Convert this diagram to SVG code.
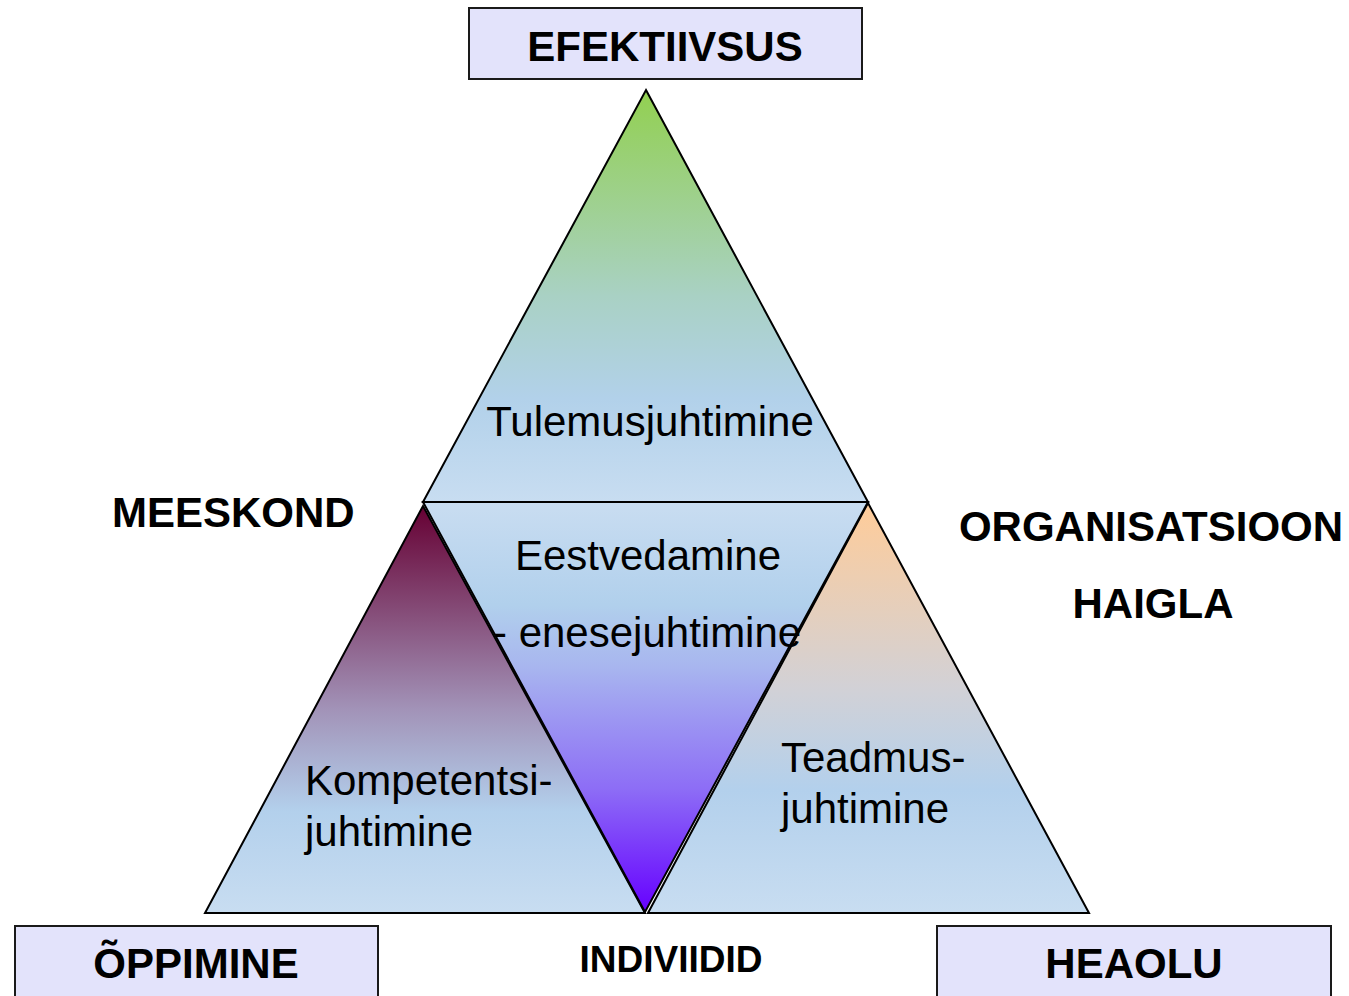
<svg xmlns="http://www.w3.org/2000/svg" width="1349" height="996" viewBox="0 0 1349 996">
<style>
.box{fill:#e3e3fb;stroke:#1a1a1a;stroke-width:2}
.tri{stroke:#000;stroke-width:2;stroke-linejoin:miter}
.b{font-family:"Liberation Sans",Arial,sans-serif;font-weight:bold;font-size:42px;fill:#000}
.r{font-family:"Liberation Sans",Arial,sans-serif;font-size:42px;fill:#000}
</style>
<defs>
<linearGradient id="gTop" x1="0" y1="90" x2="0" y2="502" gradientUnits="userSpaceOnUse">
<stop offset="0" stop-color="#92d050"/>
<stop offset="0.5" stop-color="#a9d1c4"/>
<stop offset="0.75" stop-color="#b2d1ea"/>
<stop offset="1" stop-color="#c8ddf1"/>
</linearGradient>
<linearGradient id="gMid" x1="0" y1="502" x2="0" y2="912" gradientUnits="userSpaceOnUse">
<stop offset="0" stop-color="#c9ddf1"/>
<stop offset="0.25" stop-color="#b1d0ec"/>
<stop offset="0.4" stop-color="#a8b6ef"/>
<stop offset="0.7" stop-color="#8d6df6"/>
<stop offset="1" stop-color="#6600ff"/>
</linearGradient>
<linearGradient id="gLeft" x1="0" y1="506" x2="0" y2="913" gradientUnits="userSpaceOnUse">
<stop offset="0" stop-color="#660033"/>
<stop offset="0.5" stop-color="#a293b8"/>
<stop offset="0.75" stop-color="#b3d0ec"/>
<stop offset="1" stop-color="#c8ddf1"/>
</linearGradient>
<linearGradient id="gRight" x1="0" y1="503" x2="0" y2="913" gradientUnits="userSpaceOnUse">
<stop offset="0" stop-color="#ffcc99"/>
<stop offset="0.45" stop-color="#d2d1d6"/>
<stop offset="0.7" stop-color="#b3d0ec"/>
<stop offset="1" stop-color="#c8ddf1"/>
</linearGradient>
</defs>

<g id="box-efektiivsus">
<rect class="box" x="469" y="8" width="393" height="71"/>
<text class="b" x="665" y="61" text-anchor="middle">EFEKTIIVSUS</text>
</g>

<g id="tri-top">
<polygon class="tri" points="646,90 868,502 423,502" fill="url(#gTop)"/>
</g>
<g id="tri-left">
<polygon class="tri" points="423,506 645,913 205,913" fill="url(#gLeft)"/>
</g>
<g id="tri-right">
<polygon class="tri" points="868,503 1089,913 648,913" fill="url(#gRight)"/>
</g>
<g id="tri-mid">
<polygon class="tri" points="423,502 868,502 645,912" fill="url(#gMid)"/>
</g>

<g id="labels-inner">
<text class="r" x="650" y="436" text-anchor="middle">Tulemusjuhtimine</text>
<text class="r" x="648" y="570" text-anchor="middle">Eestvedamine</text>
<text class="r" x="493" y="647">- enesejuhtimine</text>
<text class="r" x="305" y="795">Kompetentsi-</text>
<text class="r" x="305" y="846">juhtimine</text>
<text class="r" x="781" y="772">Teadmus-</text>
<text class="r" x="781" y="823">juhtimine</text>
</g>

<g id="label-meeskond"><text class="b" x="112" y="527">MEESKOND</text></g>
<g id="label-organisatsioon"><text class="b" x="1151" y="541" text-anchor="middle">ORGANISATSIOON</text></g>
<g id="label-haigla"><text class="b" x="1153" y="618" text-anchor="middle">HAIGLA</text></g>
<g id="label-indiviidid"><text class="b" x="671" y="972" text-anchor="middle" style="font-size:37px">INDIVIIDID</text></g>

<g id="box-oppimine">
<rect class="box" x="15" y="926" width="363" height="80"/>
<text class="b" x="196" y="978" text-anchor="middle">ÕPPIMINE</text>
</g>
<g id="box-heaolu">
<rect class="box" x="937" y="926" width="394" height="80"/>
<text class="b" x="1134" y="978" text-anchor="middle">HEAOLU</text>
</g>
<g id="connectors"></g>
</svg>
